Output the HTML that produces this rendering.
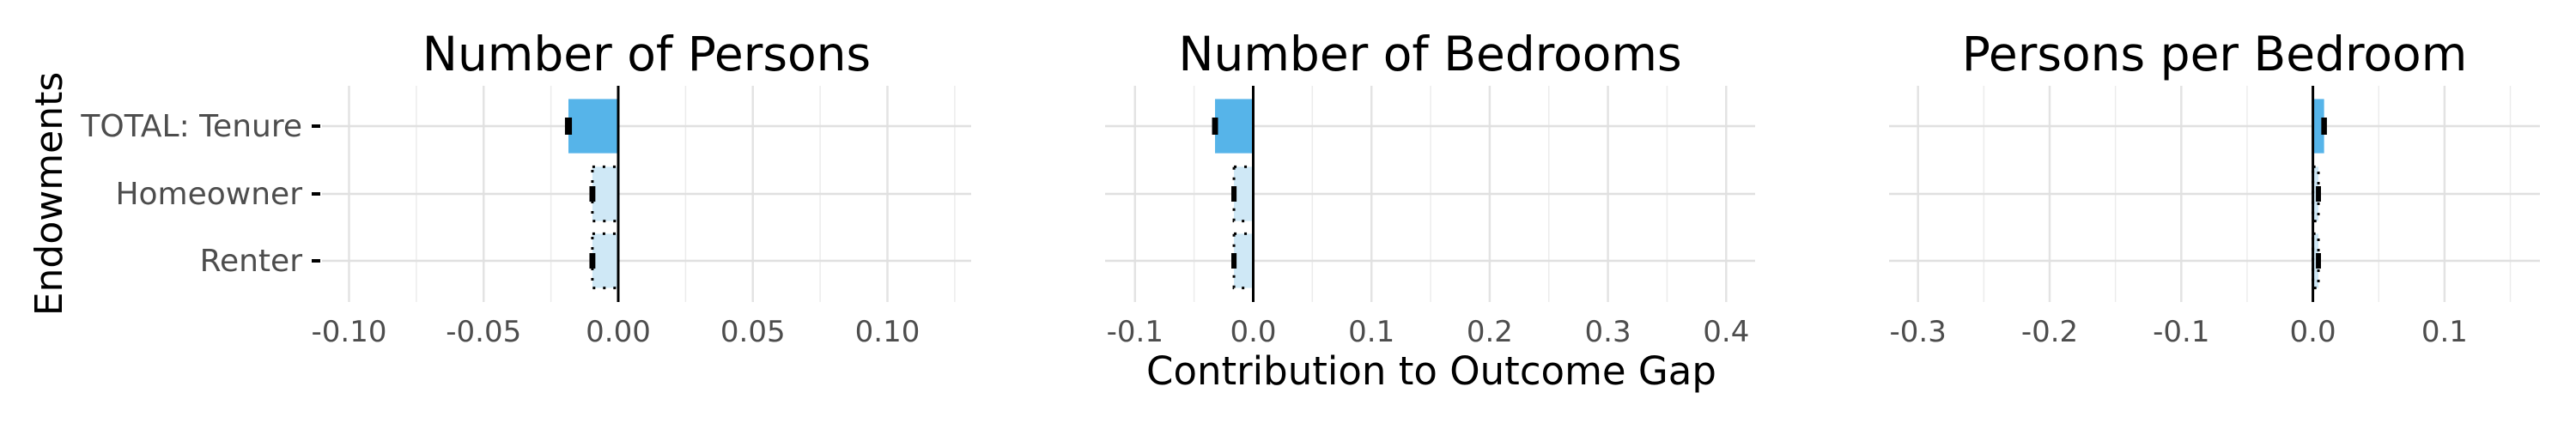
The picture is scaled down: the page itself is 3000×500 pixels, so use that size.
<!DOCTYPE html>
<html><head><meta charset="utf-8">
<style>
html,body{margin:0;padding:0;background:#fff;}
svg{display:block;font-family:"DejaVu Sans","Liberation Sans",sans-serif;}
</style></head>
<body>
<svg id="chart" width="3000" height="500" viewBox="0 0 3000 500" xmlns="http://www.w3.org/2000/svg">
<text x="0" y="0" transform="translate(72,226) rotate(-90)" text-anchor="middle" font-size="44" fill="#000">Endowments</text>
<text x="1667" y="448" text-anchor="middle" font-size="45" fill="#000">Contribution to Outcome Gap</text>
</svg>
<script>
const categories = ["TOTAL: Tenure", "Homeowner", "Renter"];
const panelTitles = ["Number of Persons", "Number of Bedrooms", "Persons per Bedroom"];
const personsValues = [-0.0185, -0.0096, -0.0096];
const personsLow = [-0.0190, -0.0099, -0.0099];
const personsHigh = [-0.0180, -0.0093, -0.0093];
const bedroomsValues = [-0.0323, -0.0163, -0.0163];
const bedroomsLow = [-0.0330, -0.0167, -0.0167];
const bedroomsHigh = [-0.0316, -0.0159, -0.0159];
const ppbValues = [0.0085, 0.0042, 0.0042];
const ppbLow = [0.0080, 0.0039, 0.0039];
const ppbHigh = [0.0090, 0.0045, 0.0045];
const personsTicks = [-0.10, -0.05, 0.00, 0.05, 0.10];
const personsTickLabels = ["-0.10", "-0.05", "0.00", "0.05", "0.10"];
const bedroomsTicks = [-0.1, 0.0, 0.1, 0.2, 0.3, 0.4];
const bedroomsTickLabels = ["-0.1", "0.0", "0.1", "0.2", "0.3", "0.4"];
const ppbTicks = [-0.3, -0.2, -0.1, 0.0, 0.1];
const ppbTickLabels = ["-0.3", "-0.2", "-0.1", "0.0", "0.1"];

const NS = "http://www.w3.org/2000/svg";
const svgEl = document.getElementById("chart");
function mk(tag, attrs, parent) {
  const e = document.createElementNS(NS, tag);
  for (const k in attrs) e.setAttribute(k, attrs[k]);
  (parent || svgEl).appendChild(e);
  return e;
}
const plotTop = 100, plotBottom = 352;
const rowY = [147, 226, 304];
const bandH = 79;

const panels = [
  {name: "persons", left: 375, right: 1131, zeroPx: 720, unit: 3135, vals: personsValues, lo: personsLow, hi: personsHigh, ticks: personsTicks, labels: personsTickLabels, title: panelTitles[0], ylabels: true},
  {name: "bedrooms", left: 1287, right: 2044, zeroPx: 1459.5, unit: 1377, vals: bedroomsValues, lo: bedroomsLow, hi: bedroomsHigh, ticks: bedroomsTicks, labels: bedroomsTickLabels, title: panelTitles[1], ylabels: false},
  {name: "persons-per-bedroom", left: 2200, right: 2958, zeroPx: 2693.6, unit: 1533, vals: ppbValues, lo: ppbLow, hi: ppbHigh, ticks: ppbTicks, labels: ppbTickLabels, title: panelTitles[2], ylabels: false}
];

panels.forEach(p => {
  const g = mk("g", {});
  
  
  const x = v => p.zeroPx + v * p.unit;
  const step = p.ticks[1] - p.ticks[0];
  for (let i = 0; i < p.ticks.length + 1; i++) {
    const mv = p.ticks[0] - step / 2 + i * step;
    const mx = x(mv);
    if (mx < p.left || mx > p.right) continue;
    const l = mk("line", {x1: mx, x2: mx, y1: plotTop, y2: plotBottom, stroke: "#ececec", "stroke-width": 1.5}, g);
    
    
  }
  p.ticks.forEach(t => {
    const l = mk("line", {x1: x(t), x2: x(t), y1: plotTop, y2: plotBottom, stroke: "#e3e3e3", "stroke-width": 2.5}, g);
    
    
  });
  rowY.forEach(y => {
    const l = mk("line", {x1: p.left, x2: p.right, y1: y, y2: y, stroke: "#e0e0e0", "stroke-width": 2.5}, g);
    
    
  });
  p.vals.forEach((v, i) => {
    const x0 = Math.min(x(0), x(v)), w = Math.abs(x(v) - x(0));
    const y0 = rowY[i] - bandH * 0.4, h = bandH * 0.8;
    const r = mk("rect", {x: x0, y: y0, width: w, height: h, fill: i === 0 ? "#56b4e9" : "#cfe8f6"}, g);
    
    
    if (i > 0) {
      const o = mk("rect", {x: x0, y: y0, width: w, height: h, fill: "none", stroke: "#000", "stroke-width": 3, "stroke-dasharray": "3 9"}, g);
      
      
    }
  });
  const z = mk("line", {x1: x(0), x2: x(0), y1: plotTop, y2: plotBottom, stroke: "#000", "stroke-width": 3}, g);
  
  
  p.vals.forEach((v, i) => {
    const hh = i === 0 ? 20 : 18;
    const xl = x(p.lo[i]), xh = x(p.hi[i]);
    const e = mk("rect", {x: Math.min(xl, xh) - 2.5, y: rowY[i] - hh / 2, width: Math.abs(xh - xl) + 5, height: hh, fill: "#000"}, g);
    
    
  });
  p.ticks.forEach((t, i) => {
    const tl = mk("text", {x: x(t), y: 398, "text-anchor": "middle", "font-size": 34, fill: "#4d4d4d"}, g);
    tl.textContent = p.labels[i];
    
    
  });
  const ti = mk("text", {x: (p.left + p.right) / 2, y: 82, "text-anchor": "middle", "font-size": 55, fill: "#000"}, g);
  ti.textContent = p.title;
  
  
  if (p.ylabels) {
    categories.forEach((c, i) => {
      const tk = mk("line", {x1: 363, x2: 373, y1: rowY[i], y2: rowY[i], stroke: "#000", "stroke-width": 4}, g);
      
      
      const yl = mk("text", {x: 352, y: rowY[i] + 12, "text-anchor": "end", "font-size": 36, fill: "#4d4d4d"}, g);
      yl.textContent = c;
      
      
    });
  }
});
</script>
</body></html>
